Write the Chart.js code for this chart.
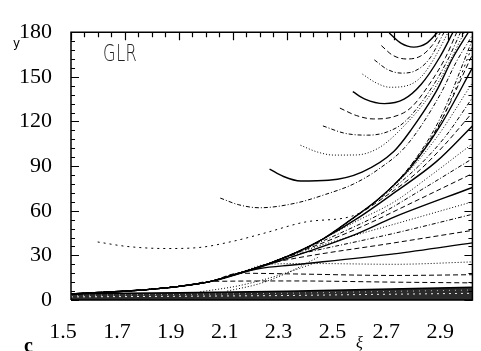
<!DOCTYPE html>
<html><head><meta charset="utf-8">
<script src="https://cdn.jsdelivr.net/npm/chart.js@4.4.0/dist/chart.umd.min.js"></script>
<style>html,body{margin:0;padding:0;background:#fff;}canvas{display:block;}</style>
</head><body>
<canvas id="c" width="481" height="351"></canvas>
<script>
// ---------- axis values ----------
const xTickValues = [1.5, 1.7, 1.9, 2.1, 2.3, 2.5, 2.7, 2.9];
const yTickValues = [0, 30, 60, 90, 120, 150, 180];
const xRange = [1.5, 2.99];
const yRange = [0, 180];
const xMinorStep = 0.05;
const yMinorStep = 6;

// ---------- upper (U-shaped) family, [xi, y] ----------
const U1  = [[2.681,179.5],[2.726,172.5],[2.772,170],[2.819,172.5],[2.861,180]];
const U2  = [[2.652,171],[2.694,164.5],[2.746,162],[2.798,164],[2.84,171],[2.872,180]];
const U3  = [[2.626,161.4],[2.674,155],[2.726,152.5],[2.777,154],[2.83,162],[2.885,180]];
const U4  = [[2.582,151.8],[2.632,146],[2.684,143],[2.746,144],[2.80,150],[2.85,163],[2.90,180]];
const U5  = [[2.546,140],[2.591,135],[2.663,132],[2.736,135],[2.80,145],[2.868,163],[2.918,180]];
const U6  = [[2.498,129],[2.559,124],[2.622,121.7],[2.694,123],[2.76,129],[2.83,145],[2.89,163],[2.932,180]];
const U7  = [[2.435,117],[2.518,112],[2.601,110.8],[2.674,113],[2.74,120],[2.84,143],[2.90,162],[2.946,180]];
const U8  = [[2.352,104],[2.414,99.5],[2.476,97.4],[2.559,97.5],[2.64,102],[2.72,114],[2.845,141],[2.91,162],[2.96,180]];
const U9  = [[2.237,88],[2.289,83],[2.352,80],[2.456,80.5],[2.58,86],[2.699,100],[2.761,114],[2.855,140],[2.918,163],[2.975,180]];
const U10 = [[2.054,68.5],[2.123,64],[2.20,62],[2.331,65],[2.445,71],[2.549,78],[2.642,88],[2.746,104],[2.87,138],[2.93,160],[2.99,178]];
const U11 = [[1.599,39],[1.708,36],[1.853,34.6],[1.97,35.2],[2.102,39.5],[2.215,44.8],[2.372,52.5],[2.553,57],[2.642,68],[2.746,87],[2.85,112],[2.923,140],[2.99,171]];
const upperCurves = [U1,U2,U3,U4,U5,U6,U7,U8,U9,U10,U11];
const upperStyles = ['solid','dash','dashdot','dot','solid','dash','dashdot','dot','solid','dashdot','sparse'];

// ---------- lower family: common left trunk, then each line peels off ----------
const trunk = [[1.5,4],[1.604,5],[1.708,6],[1.812,7.5],[1.915,9.5],[2.019,12.5],[2.123,18],[2.227,24],[2.298,29],[2.331,31.5],[2.435,41],[2.539,54],[2.642,68],[2.746,87],[2.85,112],[2.923,140],[2.99,172]];
const lowerDepart = [5,6,7,6,7,8,8,5,8,9,10,10,11,11,12,12,13,13];
const L1  = [[2.331,12.8],[2.699,12],[2.99,11.5]];
const L2  = [[2.331,17.5],[2.699,16.5],[2.99,17]];
const L3  = [[2.40,24.5],[2.699,24],[2.99,25.6]];
const L4  = [[2.20,21.2],[2.331,23.7],[2.699,31],[2.99,38.4]];
const L5  = [[2.331,28],[2.699,38.4],[2.99,46.8]];
const L6  = [[2.40,33],[2.699,44.8],[2.99,57.6]];
const L7  = [[2.45,38],[2.72,52],[2.99,66]];
const L8  = [[2.20,22],[2.549,43.6],[2.699,55.7],[2.99,75.6]];
const L9  = [[2.45,39.5],[2.60,51],[2.75,64],[2.99,85]];
const L10 = [[2.50,45],[2.65,58],[2.80,74],[2.99,95]];
const L11 = [[2.56,53],[2.70,66],[2.83,83],[2.99,105]];
const L12 = [[2.56,54.5],[2.699,72],[2.856,93],[2.99,117]];
const L13 = [[2.65,67.5],[2.78,85],[2.88,103],[2.99,126]];
const L14 = [[2.66,70],[2.79,90],[2.89,110],[2.99,136]];
const L15 = [[2.75,86],[2.86,110],[2.99,146]];
const L16 = [[2.76,89],[2.87,117],[2.99,156]];
const L17 = [[2.86,116],[2.99,165]];
const L18 = [[2.87,122],[2.99,175]];
const lowerTails = [L1,L2,L3,L4,L5,L6,L7,L8,L9,L10,L11,L12,L13,L14,L15,L16,L17,L18];
const lowerStyles = ['dash','dash','dot','solid','dash','dashdot','dot','solid','dash','dashdot','dot','solid','dash','dashdot','dot','solid','dash','dashdot'];

// ---------- short crossing lines in the fan below the trunk ----------
const F1 = [[1.98,5.5],[2.12,9.5],[2.26,16],[2.40,24.5]];
const F2 = [[2.08,6],[2.2,11],[2.3,18],[2.42,29]];
const fanLines = [F1, F2];

// ---------- dense band along the bottom ----------
const bandTop  = [[1.5,4.2],[1.9,4.8],[2.3,5.8],[2.6,7],[2.99,8.6]];
const bandMid  = [[1.5,2.1],[1.9,2.5],[2.3,3.0],[2.6,3.7],[2.99,4.5]];
const bandHigh = [[1.5,3.1],[1.9,3.7],[2.3,4.5],[2.6,5.5],[2.99,6.7]];

const dashes = {solid: [], dash: [5,3], dashdot: [4,2,1,2], dot: [1,2], sparse: [2,4]};
const toPts = arr => arr.map(p => ({x: p[0], y: p[1]}));

function lineDs(points, style, order) {
  return {
    data: toPts(points), showLine: true, pointRadius: 0,
    borderColor: '#000', borderWidth: style === 'solid' ? 1.4 : 1,
    borderDash: dashes[style], cubicInterpolationMode: 'monotone',
    fill: false, order: order
  };
}

const datasets = [];
upperCurves.forEach((c, i) => datasets.push(lineDs(c, upperStyles[i], 1)));
lowerTails.forEach((t, i) => {
  const pts = trunk.slice(0, lowerDepart[i] + 1).concat(t);
  datasets.push(lineDs(pts, lowerStyles[i], 1));
});
fanLines.forEach(f => datasets.push(lineDs(f, 'dot', 1)));
datasets.push({data: toPts(bandTop), showLine: true, pointRadius: 0, borderColor: '#000', borderWidth: 1.5,
  backgroundColor: 'rgba(25,25,25,0.92)', fill: 'origin', order: 5});
datasets.push({data: toPts(bandMid), showLine: true, pointRadius: 0, borderColor: '#eee', borderWidth: 1,
  borderDash: [2,4], fill: false, order: 4});
datasets.push({data: toPts(bandHigh), showLine: true, pointRadius: 0, borderColor: '#bbb', borderWidth: 1,
  borderDash: [1,5], fill: false, order: 4});

const framePlugin = {
  id: 'frame',
  afterDatasetsDraw(chart) {
    const {ctx, chartArea: a, scales: {x, y}} = chart;
    ctx.save();
    ctx.strokeStyle = '#000';
    ctx.lineWidth = 1.5;
    ctx.beginPath();
    ctx.moveTo(a.left, a.bottom); ctx.lineTo(a.left, a.top);
    ctx.lineTo(a.right, a.top); ctx.lineTo(a.right, a.bottom);
    ctx.lineTo(a.left, a.bottom);
    ctx.stroke();
    ctx.lineWidth = 1.2;
    ctx.beginPath();
    for (let i = 0; ; i++) {
      const v = yRange[0] + i * yMinorStep;
      if (v > yRange[1] + 1e-6) break;
      const py = Math.round(y.getPixelForValue(v)) + 0.5;
      const len = yTickValues.includes(v) ? 8 : 4;
      ctx.moveTo(a.left, py); ctx.lineTo(a.left + len, py);
      ctx.moveTo(a.right, py); ctx.lineTo(a.right - len, py);
    }
    for (let i = 0; ; i++) {
      const v = +(xRange[0] + i * xMinorStep).toFixed(3);
      if (v > xRange[1] + 1e-6) break;
      const px = Math.round(x.getPixelForValue(v)) + 0.5;
      const len = xTickValues.some(t => Math.abs(t - v) < 1e-6) ? 8 : 5;
      ctx.moveTo(px, a.top); ctx.lineTo(px, a.top + len);
    }
    ctx.stroke();
    ctx.restore();
  },
  afterDraw(chart) {
    const {ctx} = chart;
    ctx.save();
    ctx.fillStyle = '#000';
    ctx.textBaseline = 'alphabetic';
    ctx.textAlign = 'left';
    ctx.save();
    ctx.translate(103, 61);
    ctx.scale(0.7, 1);
    ctx.font = '200 23px "DejaVu Sans", sans-serif';
    ctx.fillStyle = '#222';
    ctx.fillText('G', 0, 0);
    ctx.fillText('L', 19, 0);
    ctx.fillText('R', 32, 0);
    ctx.restore();
    ctx.font = '12px "DejaVu Sans", sans-serif';
    ctx.fillText('y', 13, 47);
    ctx.font = 'italic 16px "Liberation Serif", serif';
    ctx.fillText('ξ', 356, 348);
    ctx.font = 'bold 20px "Liberation Serif", serif';
    ctx.fillText('c', 24, 352);
    ctx.restore();
  }
};

new Chart(document.getElementById('c'), {
  type: 'scatter',
  data: {datasets},
  options: {
    responsive: false, animation: false, devicePixelRatio: 1,
    layout: {padding: {top: 20, right: 1, left: 0, bottom: 0}},
    plugins: {legend: {display: false}, tooltip: {enabled: false}},
    scales: {
      x: {
        type: 'linear', min: xRange[0], max: xRange[1],
        grid: {display: false, drawTicks: false}, border: {display: false},
        afterBuildTicks: s => { s.ticks = xTickValues.map(v => ({value: v})); },
        afterFit: s => { s.height = 51; },
        ticks: {autoSkip: false, maxRotation: 0, labelOffset: -8, padding: 19, color: '#000',
          font: {family: '"Liberation Serif", serif', size: 22},
          callback: v => v.toFixed(1)}
      },
      y: {
        type: 'linear', min: yRange[0], max: yRange[1],
        grid: {display: false, drawTicks: false}, border: {display: false},
        afterBuildTicks: s => { s.ticks = yTickValues.map(v => ({value: v})); },
        afterFit: s => { s.width = 71; },
        ticks: {autoSkip: false, padding: 19, color: '#000',
          font: {family: '"Liberation Serif", serif', size: 22},
          callback: v => String(v)}
      }
    }
  },
  plugins: [framePlugin]
});
</script>
</body></html>
